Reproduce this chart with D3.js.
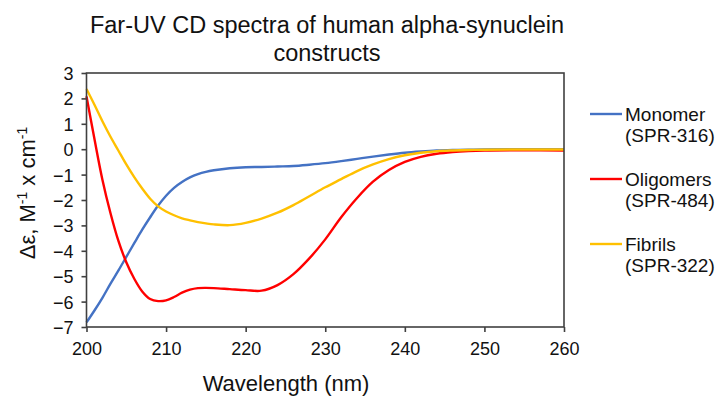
<!DOCTYPE html>
<html>
<head>
<meta charset="utf-8">
<script src="https://cdn.jsdelivr.net/npm/d3@7"></script>
<style>
  html, body { margin: 0; padding: 0; background: #fff; }
  svg { display: block; font-family: "Liberation Sans", Arial, sans-serif; }
</style>
</head>
<body>
<svg id="chart" width="717" height="399"></svg>
<script>
const wavelengths = [200,201,202,203,204,205,206,207,208,209,210,211,212,213,214,215,216,218,220,222,224,226,228,230,232,234,236,238,240,242,244,246,248,250,255,260];
const monomer   = [-6.82,-6.35,-5.85,-5.3,-4.78,-4.24,-3.7,-3.17,-2.68,-2.22,-1.83,-1.52,-1.29,-1.11,-0.98,-0.89,-0.83,-0.75,-0.71,-0.70,-0.68,-0.66,-0.61,-0.55,-0.47,-0.38,-0.29,-0.21,-0.14,-0.09,-0.05,-0.03,-0.02,-0.01,0,0];
const oligomers = [2.08,0.4,-1.2,-2.5,-3.6,-4.45,-5.1,-5.6,-5.9,-5.98,-5.95,-5.82,-5.65,-5.53,-5.47,-5.46,-5.47,-5.51,-5.55,-5.57,-5.35,-4.92,-4.3,-3.55,-2.68,-1.92,-1.28,-0.82,-0.5,-0.3,-0.18,-0.11,-0.07,-0.05,-0.04,-0.05];
const fibrils   = [2.37,1.75,1.1,0.5,-0.05,-0.6,-1.1,-1.55,-1.95,-2.25,-2.45,-2.6,-2.72,-2.8,-2.87,-2.92,-2.96,-2.99,-2.9,-2.73,-2.5,-2.2,-1.85,-1.5,-1.18,-0.86,-0.6,-0.39,-0.24,-0.14,-0.08,-0.05,-0.03,-0.02,-0.01,-0.01];
const seriesNames = [["Monomer","(SPR-316)"],["Oligomers","(SPR-484)"],["Fibrils","(SPR-322)"]];
const seriesColors = ["#4472C4","#FF0000","#FFC000"];
const xTicks = [200,210,220,230,240,250,260];
const yTicks = [-7,-6,-5,-4,-3,-2,-1,0,1,2,3];
const titleLines = ["Far-UV CD spectra of human alpha-synuclein","constructs"];

const svg = d3.select("#chart");
const pLeft = 86.5, pRight = 564, pTop = 73, pBottom = 327;
const x = d3.scaleLinear().domain([200,260]).range([pLeft,pRight]);
const y = d3.scaleLinear().domain([-7,3]).range([pBottom,pTop]);

// title
svg.append("text").attr("x",327).attr("y",33).attr("text-anchor","middle")
  .attr("font-size",23.5).attr("fill","#111")
  .selectAll("tspan").data(titleLines).join("tspan")
  .attr("x",327).attr("dy",(d,i)=> i===0 ? 0 : 28).text(d=>d);

// axes
const xAxis = svg.append("g").attr("transform",`translate(0,${pBottom})`)
  .call(d3.axisBottom(x).tickValues(xTicks).tickSize(5).tickSizeOuter(0).tickPadding(6));
const yAxis = svg.append("g").attr("transform",`translate(${pLeft},0)`)
  .call(d3.axisLeft(y).tickValues(yTicks).tickSize(5).tickSizeOuter(0).tickPadding(8));
[xAxis,yAxis].forEach(g=>{
  g.select(".domain").remove();
  g.selectAll(".tick line").attr("stroke","#404040").attr("stroke-width",1.6);
  g.selectAll(".tick text").attr("font-size",18).attr("fill","#111")
   .attr("font-family","'Liberation Sans', Arial, sans-serif");
});
xAxis.selectAll(".tick text").attr("dy","0.95em");
yAxis.selectAll(".tick text").attr("dy","0.36em");

// lines
const line = d3.line().x((d,i)=>x(wavelengths[i])).y(d=>y(d)).curve(d3.curveCatmullRom.alpha(0.5));
[monomer,oligomers,fibrils].forEach((s,i)=>{
  svg.append("path").datum(s).attr("d",line).attr("fill","none")
    .attr("stroke",seriesColors[i]).attr("stroke-width",2.4).attr("stroke-linejoin","round");
});

// frame
svg.append("rect").attr("x",pLeft).attr("y",pTop).attr("width",pRight-pLeft).attr("height",pBottom-pTop)
  .attr("fill","none").attr("stroke","#404040").attr("stroke-width",1.6);

// axis titles
svg.append("text").attr("x",286).attr("y",391).attr("text-anchor","middle")
  .attr("font-size",22).attr("fill","#111").text("Wavelength (nm)");
const yl = svg.append("text").attr("transform","translate(35,193) rotate(-90)")
  .attr("text-anchor","middle").attr("font-size",22).attr("fill","#111");
yl.append("tspan").text("Δε, M");
yl.append("tspan").attr("dy",-8).attr("font-size",14).text("-1");
yl.append("tspan").attr("dy",8).text(" x cm");
yl.append("tspan").attr("dy",-8).attr("font-size",14).text("-1");

// legend
const lg = svg.append("g");
seriesNames.forEach((nm,i)=>{
  const ly = 114 + i*65;
  lg.append("line").attr("x1",590).attr("x2",622).attr("y1",ly).attr("y2",ly)
    .attr("stroke",seriesColors[i]).attr("stroke-width",2.4);
  const t = lg.append("text").attr("x",625).attr("y",ly+7).attr("font-size",19).attr("fill","#111");
  t.append("tspan").attr("x",625).text(nm[0]);
  t.append("tspan").attr("x",625).attr("dy",21).text(nm[1]);
});
</script>
</body>
</html>
